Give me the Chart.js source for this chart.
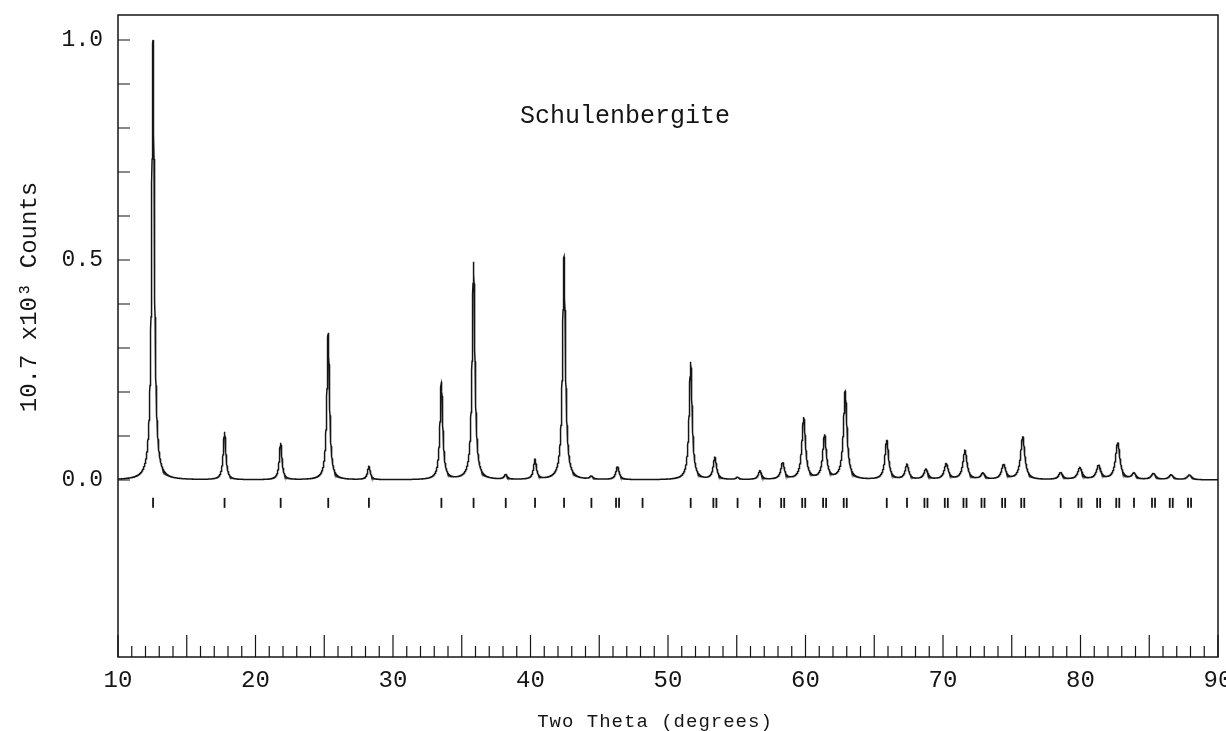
<!DOCTYPE html>
<html><head><meta charset="utf-8">
<script src="https://cdn.jsdelivr.net/npm/chart.js@4.4.1/dist/chart.umd.min.js"></script>
<style>html,body{margin:0;padding:0;background:#fff;} #wrap{width:1226px;height:731px;position:relative;}</style>
</head><body><div id="wrap"><canvas id="c"></canvas></div>
<script>
// ---- text ----
const chartTitle = 'Schulenbergite';
const xAxisTitle = 'Two Theta (degrees)';
const yAxisTitle = '10.7 x10\u00B3 Counts';

// ---- tick labels ----
const xTickLabels = [10, 20, 30, 40, 50, 60, 70, 80, 90];
const yTickLabels = [0.0, 0.5, 1.0];

// ---- observed peaks (2-theta, relative intensity, FWHM in degrees) ----
const peakPos    = [12.55, 17.75, 21.83, 25.29, 28.25, 33.52, 35.86, 38.20, 40.33, 42.44, 44.43, 46.33,
                    51.65, 53.41, 55.06, 56.69, 58.34, 59.87, 61.39, 62.89, 65.91, 67.38, 68.76, 70.24,
                    71.60, 72.91, 74.41, 75.80, 78.56, 79.96, 81.32, 82.71, 83.89, 85.31, 86.60, 87.93];
const peakHeight = [1.000, 0.109, 0.084, 0.334, 0.030, 0.222, 0.495, 0.011, 0.045, 0.507, 0.007, 0.030,
                    0.268, 0.050, 0.005, 0.020, 0.038, 0.141, 0.100, 0.200, 0.090, 0.034, 0.023, 0.036,
                    0.066, 0.014, 0.034, 0.098, 0.016, 0.027, 0.032, 0.084, 0.014, 0.014, 0.011, 0.011];
const peakWidth  = [0.23, 0.23, 0.23, 0.23, 0.24, 0.24, 0.24, 0.25, 0.25, 0.25, 0.26, 0.28,
                    0.26, 0.29, 0.27, 0.28, 0.31, 0.31, 0.31, 0.31, 0.31, 0.31, 0.35, 0.35,
                    0.35, 0.35, 0.36, 0.36, 0.35, 0.38, 0.38, 0.38, 0.36, 0.39, 0.39, 0.39];

// ---- reflection markers (2-theta) ----
const reflectionPos = [12.55, 17.75, 21.83, 25.29, 28.25, 33.52, 35.86, 38.20, 40.33, 42.44, 44.43,
                       46.22, 46.44, 48.15, 51.65, 53.30, 53.52, 55.06, 56.69, 58.23, 58.45, 59.76, 59.98,
                       61.28, 61.50, 62.78, 63.00, 65.91, 67.38, 68.65, 68.87, 70.13, 70.35, 71.49, 71.71,
                       72.80, 73.02, 74.30, 74.52, 75.69, 75.91, 78.56, 79.85, 80.07, 81.21, 81.43,
                       82.60, 82.82, 83.89, 85.20, 85.42, 86.49, 86.71, 87.82, 88.04];
const reflectionLevel = -0.052;

// ---- build profile table for the library ----
const xs = [];
for (let i = 0; i <= 8000; i++) xs.push(10 + i * 0.01);
peakPos.forEach(p => xs.push(p));
xs.sort((a, b) => a - b);
const profile = xs.map(x => ({
  x,
  y: peakPos.reduce((s, p, i) => s + peakHeight[i] / (1 + Math.pow(2 * (x - p) / peakWidth[i], 2)), 0)
}));
const reflections = reflectionPos.map(x => ({ x, y: reflectionLevel }));

const INK = '#151515';
const MONO = '"Liberation Mono", "DejaVu Sans Mono", monospace';

const framePlugin = {
  id: 'frame',
  afterDraw(chart) {
    const { ctx, chartArea: a, scales: { x, y } } = chart;
    ctx.save();
    ctx.strokeStyle = INK;
    ctx.lineWidth = 1.5;
    ctx.strokeRect(a.left, a.top, a.right - a.left, a.bottom - a.top);
    ctx.lineWidth = 1.2;
    ctx.beginPath();
    for (let v = 10; v <= 90; v += 1) {
      const px = x.getPixelForValue(v);
      const len = (v % 5 === 0) ? 22 : 11;
      ctx.moveTo(px, a.bottom);
      ctx.lineTo(px, a.bottom - len);
    }
    for (let k = 0; k <= 10; k++) {
      const py = y.getPixelForValue(k / 10);
      ctx.moveTo(a.left, py);
      ctx.lineTo(a.left + 12, py);
    }
    ctx.stroke();

    ctx.fillStyle = INK;
    ctx.textBaseline = 'alphabetic';
    ctx.font = '25px ' + MONO;
    ctx.textAlign = 'left';
    ctx.fillText(chartTitle, 520, 123);

    ctx.font = '19px ' + MONO;
    ctx.letterSpacing = '1px';
    ctx.textAlign = 'center';
    ctx.fillText(xAxisTitle, 655, 727);

    ctx.font = '24px ' + MONO;
    ctx.letterSpacing = '0px';
    ctx.translate(36, 297);
    ctx.rotate(-Math.PI / 2);
    ctx.textAlign = 'center';
    ctx.fillText(yAxisTitle, 0, 0);
    ctx.restore();
  }
};

new Chart(document.getElementById('c'), {
  type: 'scatter',
  data: {
    datasets: [
      { data: profile, showLine: true, pointRadius: 0, borderColor: INK, borderWidth: 1.5, tension: 0, fill: false },
      { data: reflections, showLine: false, pointStyle: 'line', rotation: 90, pointRadius: 5,
        borderColor: INK, backgroundColor: INK, borderWidth: 1.8 }
    ]
  },
  options: {
    responsive: true,
    maintainAspectRatio: false,
    animation: false,
    devicePixelRatio: 1,
    layout: { padding: { left: 0, right: 8, top: 15, bottom: 0 } },
    plugins: { legend: { display: false }, tooltip: { enabled: false }, title: { display: false } },
    scales: {
      x: {
        type: 'linear', min: 10, max: 90, position: 'bottom',
        grid: { display: false, drawTicks: false },
        border: { display: false },
        afterBuildTicks: s => { s.ticks = xTickLabels.map(v => ({ value: v })); },
        afterFit: s => { s.height = 74; s.paddingLeft = 0; s.paddingRight = 0; },
        ticks: { autoSkip: false, maxRotation: 0, padding: 9, color: INK,
                 font: { family: MONO, size: 24 }, callback: v => String(v) }
      },
      y: {
        type: 'linear', min: -0.4023, max: 1.0568, position: 'left',
        grid: { display: false, drawTicks: false },
        border: { display: false },
        afterBuildTicks: s => { s.ticks = yTickLabels.map(v => ({ value: v })); },
        afterFit: s => { s.width = 118; s.paddingTop = 0; s.paddingBottom = 0; },
        ticks: { autoSkip: false, padding: 15, color: INK,
                 font: { family: MONO, size: 23 }, callback: v => Number(v).toFixed(1) }
      }
    }
  },
  plugins: [framePlugin]
});
</script>
</body></html>
